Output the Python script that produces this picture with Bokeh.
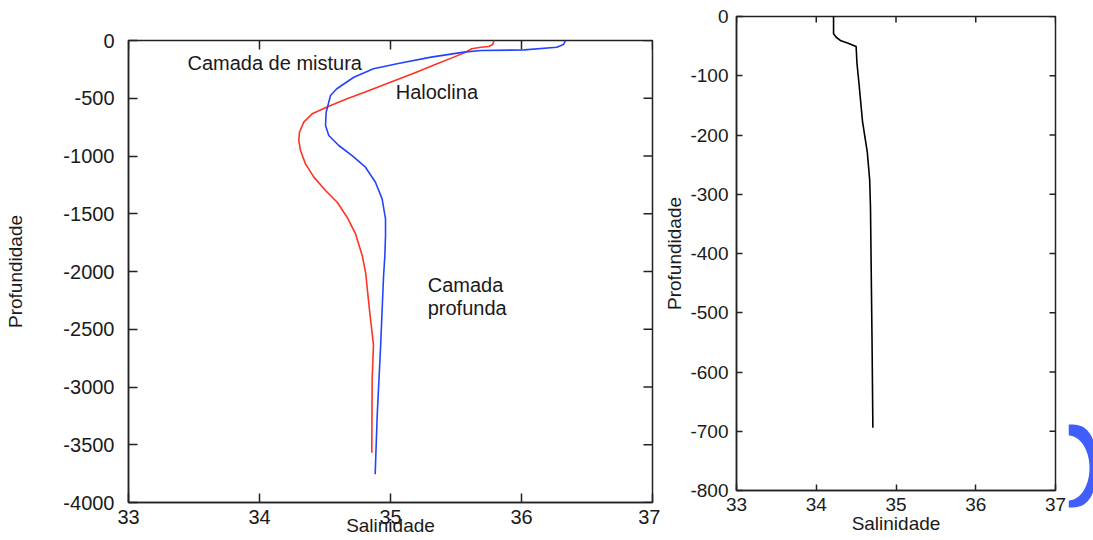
import numpy as np
from bokeh.plotting import figure
from bokeh.models import FixedTicker
from bokeh.layouts import row, column
from bokeh.embed import file_html
from bokeh.resources import INLINE

# ---------------- data ----------------
x_ticks = [33, 34, 35, 36, 37]
left_y_ticks = [0, -500, -1000, -1500, -2000, -2500, -3000, -3500, -4000]
right_y_ticks = [0, -100, -200, -300, -400, -500, -600, -700, -800]

red_salinity = [35.79, 35.78, 35.75, 35.69, 35.62, 35.573, 35.483, 35.356, 35.178, 34.999,
                34.822, 34.669, 34.529, 34.402, 34.338, 34.305, 34.300, 34.313, 34.351,
                34.415, 34.504, 34.593, 34.669, 34.733, 34.784, 34.81, 34.84, 34.87,
                34.86, 34.857]
red_depth = [0, -35, -52, -58, -72, -101, -144, -202, -283, -361,
             -439, -505, -569, -635, -707, -794, -866, -952, -1068,
             -1183, -1299, -1400, -1530, -1674, -1861, -2009, -2337, -2636,
             -2934, -3570]

blue_salinity = [36.336, 36.32, 36.27, 36.02, 35.69, 35.56, 35.31, 35.05, 34.87, 34.72,
                 34.59, 34.542, 34.509, 34.504, 34.529, 34.605, 34.707, 34.809, 34.885,
                 34.936, 34.962, 34.962, 34.957, 34.947, 34.925, 34.899, 34.883]
blue_depth = [0, -35, -58, -81, -87, -101, -144, -202, -245, -318,
              -418, -476, -621, -736, -823, -909, -996, -1097, -1227,
              -1371, -1544, -1688, -1861, -2039, -2636, -3233, -3755]

black_salinity = [34.217, 34.217, 34.25, 34.31, 34.40, 34.50, 34.51, 34.54, 34.58,
                  34.64, 34.67, 34.68, 34.69, 34.70, 34.71]
black_depth = [0, -29, -35, -41, -45, -50.5, -78, -119, -177,
               -229, -276, -322, -438, -554, -694]

annotations = ["Camada de mistura", "Haloclina", "Camada", "profunda"]
annot_x = [33.45, 35.04, 35.284, 35.284]
annot_y = [-199, -442, -2118, -2314]

FONT = "Liberation Sans"
TXT = "#1a1a1a"
AX = "#222222"


def style_axis(ax, ticks, tick_len, standoff, font_size, title, title_standoff):
    ax.ticker = FixedTicker(ticks=ticks)
    ax.major_label_overrides = {t: str(t) for t in ticks}
    ax.axis_line_color = AX
    ax.axis_line_width = 1.5
    ax.major_tick_line_color = AX
    ax.major_tick_line_width = 1.5
    ax.major_tick_in = tick_len
    ax.major_tick_out = 0
    ax.minor_tick_line_color = None
    ax.major_label_text_font = FONT
    ax.major_label_text_color = TXT
    ax.major_label_text_font_size = font_size
    ax.major_label_standoff = standoff
    ax.axis_label = title
    ax.axis_label_text_font = FONT
    ax.axis_label_text_font_style = "normal"
    ax.axis_label_text_font_size = "19px"
    ax.axis_label_text_color = TXT
    ax.axis_label_standoff = title_standoff


def make_panel(width, height, yr, yticks, borders, tick_len, font_size,
               ystand, xstand, ytitle_standoff, xtitle_standoff):
    p = figure(width=width, height=height, x_range=(33, 37), y_range=yr,
               output_backend="svg", toolbar_location=None,
               min_border_left=borders[0], min_border_right=borders[1],
               min_border_top=borders[2], min_border_bottom=borders[3])
    p.grid.visible = False
    p.background_fill_color = "white"
    p.border_fill_color = "white"
    p.outline_line_color = AX
    p.outline_line_width = 1.5
    style_axis(p.xaxis[0], x_ticks, tick_len, xstand, font_size, "Salinidade", xtitle_standoff)
    style_axis(p.yaxis[0], yticks, tick_len, ystand, font_size, "Profundidade", ytitle_standoff)
    # mirrored inward ticks on the top and right edges (half of each dash is clipped)
    p.scatter(x=x_ticks, y=[yr[1]] * len(x_ticks), marker="dash", angle=np.pi / 2,
              size=2 * tick_len, line_color=AX, line_width=1.5)
    p.scatter(x=[37] * len(yticks), y=yticks, marker="dash",
              size=2 * tick_len, line_color=AX, line_width=1.5)
    return p


# ---------------- left panel ----------------
p1 = make_panel(660, 540, (-4000, 0), left_y_ticks, (128, 8, 40, 38), 9, "20px",
                14, 7, 34, -12)
p1.line(red_salinity, red_depth, line_color="#ff3322", line_width=1.6, line_join="round")
p1.line(blue_salinity, blue_depth, line_color="#2244ff", line_width=1.6, line_join="round")
p1.text(x=annot_x, y=annot_y, text=annotations, text_font_size="20px",
        text_color=TXT, text_align="left", text_baseline="middle",
        text_font={"value": FONT})

# ---------------- right panel ----------------
p2 = make_panel(408, 540, (-800, 0), right_y_ticks, (76, 13, 16, 50), 6, "19px",
                8, 7, 2, -1)
p2.line(black_salinity, black_depth, line_color="black", line_width=1.6, line_join="round")

# ---------------- cropped blue logo fragment at the right edge ----------------
p3 = figure(width=25, height=540, x_range=(1068, 1093), y_range=(540, 0),
            output_backend="svg", toolbar_location=None,
            min_border_left=0, min_border_right=0, min_border_top=0, min_border_bottom=0)
p3.axis.visible = False
p3.grid.visible = False
p3.outline_line_color = None
p3.background_fill_color = "white"
p3.border_fill_color = "white"
t = np.linspace(-np.pi / 2, np.pi / 2, 60)
ox = 1068 + 29 * np.cos(t) ** 0.65
oy = 465.5 + 41.5 * np.sin(t)
ti = t[::-1]
ix = 1068 + 21 * np.cos(ti)
iy = 467.5 + 32.5 * np.sin(ti)
p3.patch(np.concatenate([ox, ix]), np.concatenate([oy, iy]),
         fill_color="#3f5efb", line_color=None)

layout = row(column(p1), column(p2), column(p3))
open("out.html", "w").write(file_html(layout, INLINE))
